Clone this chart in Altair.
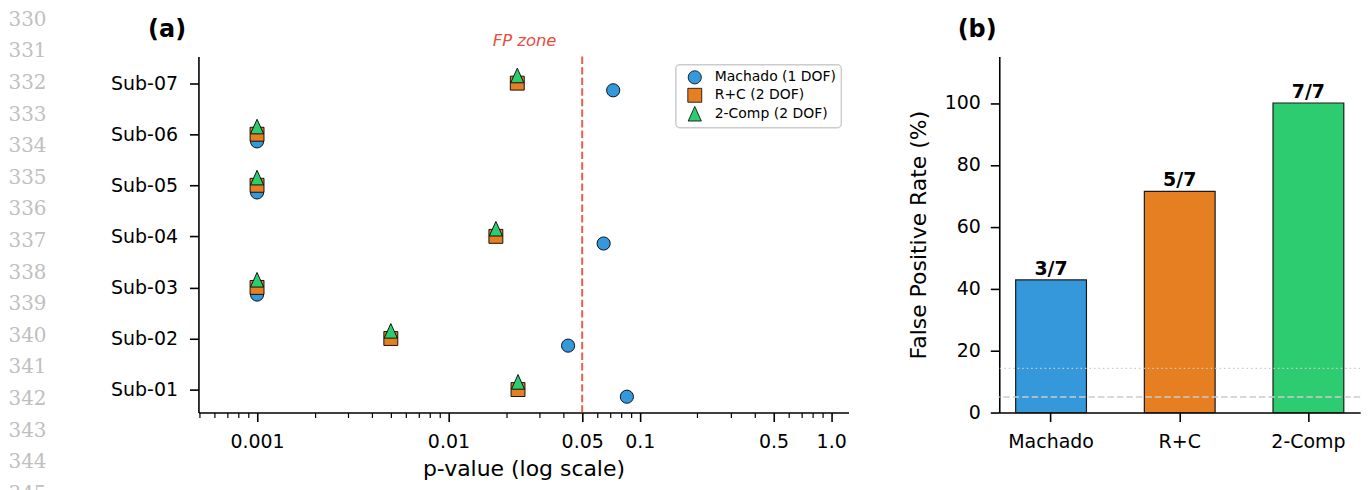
import altair as alt
import pandas as pd

# ---------------- data ----------------
subjects = ["Sub-01", "Sub-02", "Sub-03", "Sub-04", "Sub-05", "Sub-06", "Sub-07"]
methods = ["Machado (1 DOF)", "R+C (2 DOF)", "2-Comp (2 DOF)"]
p_machado = [0.0856, 0.0422, 0.001, 0.0647, 0.001, 0.001, 0.0726]
p_rc = [0.0231, 0.0050, 0.001, 0.0177, 0.001, 0.001, 0.0229]
p_2comp = [0.0231, 0.0050, 0.001, 0.0177, 0.001, 0.001, 0.0229]
row_offsets = [-0.14, 0.0, 0.15]
method_colors = ["#3498db", "#e67e22", "#2ecc71"]
fp_threshold = [0.05]

bar_labels = ["Machado", "R+C", "2-Comp"]
fp_counts = [3, 5, 7]
n_subjects = 7
ref_alpha = [5.0]
ref_one = [100.0 / 7]

panel_labels = ["(a)", "(b)"]
line_numbers = list(range(330, 346))

major_ticks = [0.001, 0.01, 0.05, 0.1, 0.5, 1.0]
minor_ticks = [0.0005, 0.0006, 0.0007, 0.0008, 0.0009,
               0.002, 0.003, 0.004, 0.005, 0.006, 0.007, 0.008, 0.009,
               0.02, 0.03, 0.04, 0.06, 0.07, 0.08, 0.09,
               0.2, 0.3, 0.4, 0.6, 0.7, 0.8, 0.9]

# ---------------- tables ----------------
rows = []
for m, (name, pv) in enumerate(zip(methods, [p_machado, p_rc, p_2comp])):
    for i, (s, p) in enumerate(zip(subjects, pv)):
        rows.append({"method": name, "subject": s, "p": p, "row": i + row_offsets[m]})
pts = pd.DataFrame(rows)

bars = pd.DataFrame({
    "model": bar_labels,
    "rate": [c / n_subjects * 100 for c in fp_counts],
    "frac": [f"{c}/{n_subjects}" for c in fp_counts],
})

FONT = "DejaVu Sans"
majors_js = "[" + ",".join(str(v) for v in major_ticks) + "]"
is_major = f"indexof({majors_js}, datum.value) >= 0"

x_scale = alt.Scale(type="log", domain=[0.000494, 1.232], nice=False)
y_scale = alt.Scale(domain=[-0.45, 6.52], nice=False, zero=False)

x_axis = alt.Axis(
    values=sorted(major_ticks + minor_ticks),
    labelExpr=f"{is_major} ? (datum.value == 1 ? '1.0' : toString(datum.value)) : ''",
    labelOverlap=False, labelFlush=False,
    tickSize={"condition": {"test": is_major, "value": 9}, "value": 5},
    tickWidth={"condition": {"test": is_major, "value": 1.6}, "value": 1.2},
    tickColor="black", domainColor="black", domainWidth=1.6,
    labelFontSize=19, labelColor="black", labelPadding=11,
    titleFontSize=22, titleFontWeight="normal", titleColor="black", titlePadding=7,
    grid=False,
)
y_axis = alt.Axis(
    values=list(range(7)),
    labelExpr="'Sub-0' + (datum.value + 1)",
    tickSize=9, tickWidth=1.6, tickColor="black",
    domainColor="black", domainWidth=1.6,
    labelFontSize=19, labelColor="black", labelPadding=12,
    title=None, grid=False,
)

tri = "M0,-1L-0.9,1L0.9,1Z"
legend = alt.Legend(
    title=None, orient="none", legendX=478.8, legendY=8.3,
    fillColor="white", strokeColor="#cccccc",
    padding=5, symbolOffset=6, labelOffset=12, labelFontSize=14, labelColor="black",
    symbolSize=120, rowPadding=0, symbolStrokeColor="black", symbolStrokeWidth=0.8,
)

points = alt.Chart(pts).mark_point(filled=True, opacity=1, stroke="black", strokeWidth=0.9).encode(
    x=alt.X("p:Q", scale=x_scale, axis=x_axis, title="p-value (log scale)"),
    y=alt.Y("row:Q", scale=y_scale, axis=y_axis),
    color=alt.Color("method:N", scale=alt.Scale(domain=methods, range=method_colors), legend=legend),
    shape=alt.Shape("method:N", scale=alt.Scale(domain=methods, range=["circle", "square", tri]), legend=legend),
    size=alt.Size("method:N", scale=alt.Scale(domain=methods, range=[175, 215, 200]), legend=None),
)

rule = alt.Chart(pd.DataFrame({"p": fp_threshold})).mark_rule(
    color="#e74c3c", strokeWidth=2, strokeDash=[7.4, 3.2], opacity=0.9
).encode(x=alt.X("p:Q", scale=x_scale, title="p-value (log scale)"))

fp_text = alt.Chart(pd.DataFrame({"label": ["FP zone"]})).mark_text(
    font=FONT, fontSize=16.5, fontStyle="italic", color="#e74c3c", align="center", baseline="alphabetic"
).encode(x=alt.datum(0.025, scale=x_scale), y=alt.datum(6.72, scale=y_scale), text="label:N")

label_a = alt.Chart(pd.DataFrame({"t": [panel_labels[0]]})).mark_text(
    font=FONT, fontSize=24, fontWeight="bold", color="black", align="left", baseline="alphabetic"
).encode(x=alt.value(-50.5), y=alt.value(-20), text="t:N")

main_layer = alt.layer(rule, points, fp_text, label_a)

linenum = alt.Chart(pd.DataFrame({"ln": line_numbers})).mark_text(
    font="DejaVu Serif", fontSize=20, color="#c0c0c0", align="left", baseline="middle"
).encode(
    x=alt.value(-190.5),
    y=alt.Y("ln:Q", scale=alt.Scale(domain=[331.167, 342.425], reverse=True, nice=False, zero=False), axis=None),
    text="ln:N",
)

left = alt.layer(main_layer, linenum).resolve_scale(y="independent").properties(width=652, height=357)

# ---------------- right panel ----------------
bx = alt.X("model:N", sort=bar_labels,
           scale=alt.Scale(domain=bar_labels, paddingInner=0.45, paddingOuter=0.1275),
           axis=alt.Axis(labelAngle=0, title=None, tickSize=9, tickWidth=1.6, tickColor="black",
                         domainColor="black", domainWidth=1.6, labelFontSize=19, labelColor="black",
                         labelPadding=11, grid=False))
by_scale = alt.Scale(domain=[0, 115], nice=False)
by = alt.Y("rate:Q", scale=by_scale,
           axis=alt.Axis(values=[0, 20, 40, 60, 80, 100], title="False Positive Rate (%)",
                         titleFontSize=22, titleFontWeight="normal", titleColor="black", titlePadding=14,
                         tickSize=9, tickWidth=1.6, tickColor="black", domainColor="black", domainWidth=1.6,
                         labelFontSize=19, labelColor="black", labelPadding=10, grid=False))

bar_marks = alt.Chart(bars).mark_bar(stroke="#1a1a1a", strokeWidth=1.2).encode(
    x=bx, y=by,
    color=alt.Color("model:N", scale=alt.Scale(domain=bar_labels, range=method_colors), legend=None),
)
bar_text = alt.Chart(bars).mark_text(font=FONT, fontSize=19, fontWeight="bold", color="black",
                                     baseline="alphabetic", dy=-5).encode(x=bx, y=by, text="frac:N")
dash_line = alt.Chart(pd.DataFrame({"rate": ref_alpha})).mark_rule(
    color="#cccccc", strokeWidth=1.5, strokeDash=[6.5, 3]
).encode(y=alt.Y("rate:Q", scale=by_scale))
dot_line = alt.Chart(pd.DataFrame({"rate": ref_one})).mark_rule(
    color="#cccccc", strokeWidth=1.2, strokeDash=[1.5, 3]
).encode(y=alt.Y("rate:Q", scale=by_scale))
label_b = alt.Chart(pd.DataFrame({"t": [panel_labels[1]]})).mark_text(
    font=FONT, fontSize=24, fontWeight="bold", color="black", align="left", baseline="alphabetic"
).encode(x=alt.value(-41.7), y=alt.value(-20), text="t:N")

right = alt.layer(bar_marks, bar_text, dot_line, dash_line, label_b).properties(width=362, height=357)

chart = alt.hconcat(left, right, spacing=151.2, bounds="flush").resolve_scale(
    color="independent", shape="independent", size="independent"
).configure(font=FONT, padding=0).configure_view(
    stroke=None
).configure_legend(strokeWidth=1.5, cornerRadius=4)

chart.save("out.html", embed_options={"renderer": "svg", "actions": False})
